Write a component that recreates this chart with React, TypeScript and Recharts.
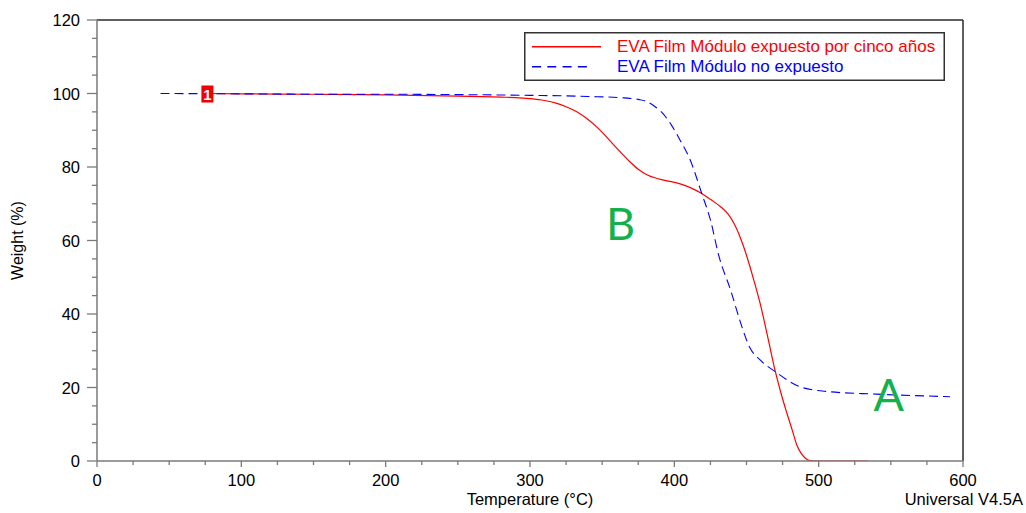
import React from 'react';
import { LineChart, Line, XAxis, YAxis, ReferenceLine, ReferenceDot, Legend } from 'recharts';

// ---- data ----
const exposedTemp = [75, 100, 150, 200, 250, 280, 290, 300, 310, 318, 325, 333, 340, 346, 352, 358, 364, 369, 375, 381, 387, 392, 398, 404, 411, 419, 425, 432, 437, 441, 446, 450, 455, 460, 465, 470, 474, 478, 482, 485, 488, 491, 494, 500, 534];
const exposedWeight = [100, 99.9, 99.8, 99.6, 99.3, 99.0, 98.9, 98.6, 98.1, 97.4, 96.4, 94.9, 93.0, 91.0, 88.6, 86.0, 83.5, 81.5, 79.4, 77.9, 77.0, 76.5, 76.0, 75.4, 74.4, 72.8, 71.2, 69.2, 67.3, 64.9, 60.5, 56.0, 49.3, 42.0, 33.2, 24.3, 18.3, 13.0, 8.0, 4.2, 2.0, 0.7, 0.1, 0, 0];

const unexposedTemp = [44, 100, 150, 200, 250, 300, 340, 365, 375, 381, 386, 392, 398, 404, 411, 419, 425, 431, 439, 446, 452, 460, 470, 487, 506, 540, 591];
const unexposedWeight = [100, 99.9, 99.8, 99.8, 99.7, 99.5, 99.2, 98.8, 98.4, 97.8, 96.6, 94.6, 91.4, 87.3, 81.9, 72.8, 65.6, 55.6, 46.5, 37.5, 31.1, 27.3, 24.3, 20.2, 18.9, 18.2, 17.5];

const seriesNames = ['EVA Film Módulo expuesto por cinco años', 'EVA Film Módulo no expuesto'];

const xTicks = [0, 25, 50, 75, 100, 125, 150, 175, 200, 225, 250, 275, 300, 325, 350, 375, 400, 425, 450, 475, 500, 525, 550, 575, 600];
const xMajorTicks = [0, 100, 200, 300, 400, 500, 600];
const yTicks = [0, 5, 10, 15, 20, 25, 30, 35, 40, 45, 50, 55, 60, 65, 70, 75, 80, 85, 90, 95, 100, 105, 110, 115, 120];
const yMajorTicks = [0, 20, 40, 60, 80, 100, 120];

const xTitle = 'Temperature (°C)';
const yTitle = 'Weight (%)';
const footerText = 'Universal V4.5A';

const annotations = [
  { label: 'B', temp: 362.8, weight: 64.4 },
  { label: 'A', temp: 548.5, weight: 18.0 },
];
const marker = { label: '1', temp: 76.5, weight: 100 };

const exposedData = exposedTemp.map((t, i) => ({ T: t, W: exposedWeight[i] }));
const unexposedData = unexposedTemp.map((t, i) => ({ T: t, W: unexposedWeight[i] }));

const FONT = '"Liberation Sans", Arial, sans-serif';
const AXIS_GRAY = '#7a7a7a';
const RED = '#FF0000';
const BLUE = '#0000FF';
const GREEN = '#14B04C';

const YTick = (props: any) => {
  const { x, y, payload } = props;
  const v = payload.value;
  const major = yMajorTicks.includes(v);
  return (
    <g>
      <line x1={x - (major ? 10 : 5)} x2={x} y1={y} y2={y} stroke={AXIS_GRAY} strokeWidth={1.3} />
      {major && (
        <text x={x - 17} y={y + 6} textAnchor="end" fontSize={16.5} fill="#000" fontFamily={FONT}>
          {v}
        </text>
      )}
    </g>
  );
};

const XTick = (props: any) => {
  const { x, y, payload } = props;
  const v = payload.value;
  const major = xMajorTicks.includes(v);
  return (
    <g>
      <line x1={x} x2={x} y1={y} y2={y + (major ? 6 : 4)} stroke={AXIS_GRAY} strokeWidth={1.3} />
      {major && (
        <text x={x} y={y + 24.5} textAnchor="middle" fontSize={16.5} fill="#000" fontFamily={FONT}>
          {v}
        </text>
      )}
    </g>
  );
};

const LegendBox = () => (
  <svg width={421} height={49} style={{ display: 'block' }}>
    <rect x={0.75} y={0.75} width={419.5} height={47.5} fill="#fff" stroke="#333" strokeWidth={1.5} />
    <line x1={8} x2={77} y1={14.7} y2={14.7} stroke={RED} strokeWidth={1.6} />
    <text x={93} y={20.2} fontSize={17} fill={RED} fontFamily={FONT}>{seriesNames[0]}</text>
    <line x1={8} x2={63} y1={34.7} y2={34.7} stroke={BLUE} strokeWidth={1.6} strokeDasharray="9 6.3" />
    <text x={93} y={40} fontSize={17} fill={BLUE} fontFamily={FONT}>{seriesNames[1]}</text>
  </svg>
);

export default function App() {
  return (
    <div style={{ position: 'absolute', left: 0, top: 0, width: 1026, height: 513, background: '#fff' }}>
      <LineChart width={1026} height={513} margin={{ top: 20, right: 63, bottom: 0, left: 0 }}>
        <XAxis
          type="number"
          dataKey="T"
          domain={[0, 600]}
          ticks={xTicks}
          interval={0}
          allowDataOverflow
          height={52}
          tickSize={0}
          tickMargin={0}
          tickLine={false}
          tick={<XTick />}
          axisLine={{ stroke: AXIS_GRAY, strokeWidth: 1.5 }}
          label={{
            content: (p: any) => {
              const vb = p.viewBox || {};
              return (
                <g>
                  <text x={vb.x + vb.width / 2} y={505} textAnchor="middle" fontSize={16.5} fill="#000" fontFamily={FONT}>{xTitle}</text>
                  <text x={1023} y={505} textAnchor="end" fontSize={16.5} fill="#000" fontFamily={FONT}>{footerText}</text>
                </g>
              );
            },
          }}
        />
        <YAxis
          type="number"
          dataKey="W"
          domain={[0, 120]}
          ticks={yTicks}
          interval={0}
          allowDataOverflow
          width={97}
          tickSize={0}
          tickMargin={0}
          tickLine={false}
          tick={<YTick />}
          axisLine={{ stroke: AXIS_GRAY, strokeWidth: 1.5 }}
          label={{
            content: (p: any) => {
              const vb = p.viewBox || {};
              const cy = vb.y + vb.height / 2;
              return (
                <text x={23} y={cy} transform={`rotate(-90 23 ${cy})`} textAnchor="middle" fontSize={16} fill="#000" fontFamily={FONT}>
                  {yTitle}
                </text>
              );
            },
          }}
        />
        <ReferenceLine y={120} stroke="#2a2a2a" strokeWidth={1.5} />
        <ReferenceLine x={600} stroke="#2a2a2a" strokeWidth={1.5} />
        <Line
          data={exposedData}
          dataKey="W"
          type="monotone"
          stroke={RED}
          strokeWidth={1.2}
          dot={false}
          isAnimationActive={false}
          name={seriesNames[0]}
        />
        <Line
          data={unexposedData}
          dataKey="W"
          type="monotone"
          stroke={BLUE}
          strokeWidth={1.1}
          strokeDasharray="9 5"
          dot={false}
          isAnimationActive={false}
          name={seriesNames[1]}
        />
        <ReferenceDot
          x={marker.temp}
          y={marker.weight}
          r={0}
          shape={(p: any) => (
            <g>
              <rect x={p.cx - 6} y={p.cy - 8} width={12} height={17} fill="#F00000" />
              <text x={p.cx} y={p.cy + 6} textAnchor="middle" fontSize={15} fontWeight="bold" fill="#fff" fontFamily={FONT}>{marker.label}</text>
            </g>
          )}
        />
        {annotations.map((a) => (
          <ReferenceDot
            key={a.label}
            x={a.temp}
            y={a.weight}
            r={0}
            shape={(p: any) => (
              <text x={p.cx} y={p.cy + 16} textAnchor="middle" fontSize={45} fill={GREEN} fontFamily="Lato, 'Open Sans', sans-serif">
                {a.label}
              </text>
            )}
          />
        ))}
        <Legend
          layout="horizontal"
          verticalAlign="middle"
          align="center"
          wrapperStyle={{ position: 'absolute', left: 524, top: 32, width: 421, height: 49 }}
          content={() => <LegendBox />}
        />
      </LineChart>
    </div>
  );
}
